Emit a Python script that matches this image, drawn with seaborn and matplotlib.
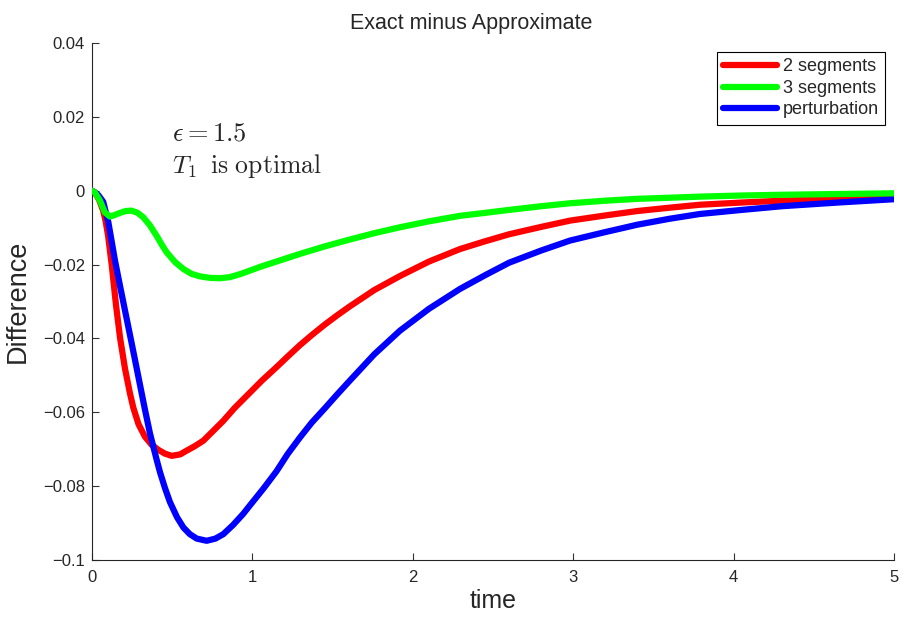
import numpy as np
import pandas as pd
import matplotlib
matplotlib.use("Agg")
import matplotlib.pyplot as plt
import seaborn as sns

# Valores
t_two = [0, 0.02, 0.045, 0.07, 0.085, 0.1, 0.123, 0.15, 0.175, 0.206, 0.237, 0.258,
         0.29, 0.33, 0.372, 0.415, 0.455, 0.497, 0.55, 0.59, 0.64, 0.694, 0.75,
         0.819, 0.89, 0.975, 1.06, 1.15, 1.22, 1.297, 1.37, 1.45, 1.53, 1.608, 1.76,
         1.92, 2.1, 2.294, 2.45, 2.6, 2.8, 2.98, 3.2, 3.4, 3.6, 3.79, 4.05, 4.3,
         4.65, 5.0]
d_two = [0, -0.0006, -0.0025, -0.0054, -0.0082, -0.012, -0.02, -0.031, -0.0398,
         -0.0482, -0.0549, -0.0588, -0.0632, -0.0666, -0.0688, -0.0702, -0.0712,
         -0.0718, -0.0714, -0.0704, -0.0692, -0.0677, -0.0653, -0.0623, -0.0588,
         -0.0551, -0.0514, -0.0478, -0.0449, -0.0418, -0.0391, -0.0363, -0.0337,
         -0.0313, -0.0269, -0.0231, -0.0192, -0.0158, -0.0137, -0.0118, -0.0098,
         -0.0081, -0.0067, -0.0055, -0.0046, -0.0038, -0.0032, -0.0027, -0.0021,
         -0.0015]

t_three = [0, 0.019, 0.05, 0.081, 0.112, 0.14, 0.175, 0.21, 0.247, 0.285, 0.32,
           0.36, 0.403, 0.435, 0.466, 0.52, 0.57, 0.62, 0.673, 0.735, 0.798, 0.86,
           0.93, 1.05, 1.17, 1.297, 1.45, 1.6, 1.76, 1.92, 2.1, 2.294, 2.45, 2.6,
           2.8, 2.98, 3.2, 3.4, 3.6, 3.79, 4.05, 4.3, 4.65, 5.0]
d_three = [0, -0.0005, -0.0027, -0.0059, -0.007, -0.0066, -0.006, -0.0055, -0.0054,
           -0.006, -0.0072, -0.0093, -0.0122, -0.0146, -0.0167, -0.0194, -0.0212,
           -0.0225, -0.0232, -0.0236, -0.0237, -0.0234, -0.0225, -0.0206, -0.0189,
           -0.0171, -0.0151, -0.0133, -0.0115, -0.0099, -0.0083, -0.0068, -0.006,
           -0.0052, -0.0042, -0.0034, -0.0027, -0.0022, -0.0019, -0.0016, -0.0013,
           -0.0011, -0.0009, -0.0007]

t_pert = [0, 0.02, 0.04, 0.07, 0.102, 0.122, 0.143, 0.175, 0.21, 0.247, 0.289,
          0.33, 0.362, 0.403, 0.424, 0.455, 0.486, 0.53, 0.57, 0.61, 0.653, 0.715,
          0.77, 0.819, 0.88, 0.943, 0.985, 1.07, 1.15, 1.22, 1.297, 1.37, 1.45, 1.53,
          1.608, 1.76, 1.92, 2.1, 2.294, 2.45, 2.6, 2.8, 2.98, 3.2, 3.4, 3.6, 3.79,
          4.05, 4.3, 4.65, 5.0]
d_pert = [0, -0.0005, -0.0012, -0.003, -0.0085, -0.0135, -0.0188, -0.0258, -0.0333,
          -0.0412, -0.0503, -0.0592, -0.0658, -0.0728, -0.0762, -0.0805, -0.0843,
          -0.0884, -0.0912, -0.093, -0.0942, -0.0948, -0.0942, -0.093, -0.0905,
          -0.0875, -0.0852, -0.0806, -0.076, -0.0713, -0.0668, -0.0628, -0.059,
          -0.0551, -0.0514, -0.0443, -0.0379, -0.032, -0.0266, -0.0229, -0.0195,
          -0.0162, -0.0135, -0.0112, -0.0092, -0.0076, -0.0063, -0.0052, -0.0042,
          -0.0032, -0.0023]

labels = ["2 segments", "3 segments", "perturbation"]
colors = ["#ff0000", "#00ff00", "#0000ff"]

df = pd.concat([
    pd.DataFrame({"time": t_two, "Difference": d_two, "serie": labels[0]}),
    pd.DataFrame({"time": t_three, "Difference": d_three, "serie": labels[1]}),
    pd.DataFrame({"time": t_pert, "Difference": d_pert, "serie": labels[2]}),
])

sns.set_style("ticks")
plt.rcParams["font.family"] = ["Liberation Sans", "DejaVu Sans"]
plt.rcParams["mathtext.fontset"] = "cm"
plt.rcParams["xtick.direction"] = "in"
plt.rcParams["ytick.direction"] = "in"
plt.rcParams["lines.solid_joinstyle"] = "round"

fig = plt.figure(figsize=(9.06, 6.17), dpi=100)
ax = fig.add_axes([0.1015, 0.0924, 0.8853, 0.8379])

sns.lineplot(data=df, x="time", y="Difference", hue="serie", palette=colors,
             linewidth=4.5, sort=False, estimator=None, ax=ax)

# verde por cima, azul sobre o vermelho
ax.lines[0].set_zorder(2)
ax.lines[2].set_zorder(2.5)
ax.lines[1].set_zorder(3)

ax.set_xlim(0, 5)
ax.set_ylim(-0.1, 0.04)
ax.set_xticks([0, 1, 2, 3, 4, 5])
ax.set_yticks([-0.1, -0.08, -0.06, -0.04, -0.02, 0, 0.02, 0.04])
ax.set_yticklabels(["\u22120.1", "\u22120.08", "\u22120.06", "\u22120.04", "\u22120.02",
                    "0", "0.02", "0.04"])
ax.tick_params(axis="both", labelsize=12, length=5, width=0.8, color="#333333")
ax.tick_params(axis="x", pad=7)
ax.tick_params(axis="y", pad=5)
sns.despine(ax=ax)

ax.set_title("Exact minus Approximate", fontsize=15.5, pad=10, x=0.4726)
ax.set_xlabel("time", fontsize=18, labelpad=3)
ax.set_ylabel("Difference", fontsize=19.5, labelpad=9)

ax.text(0.5, 0.0155, r"$\epsilon = 1.5$", fontsize=19, va="center", ha="left")
ax.text(0.5, 0.0068, r"$T_1\;\;\mathrm{is\ optimal}$", fontsize=18.5,
        va="center", ha="left")

leg = ax.legend(loc="upper right", fontsize=13, frameon=True, fancybox=False,
                edgecolor="black", framealpha=1, handlelength=3.0,
                borderaxespad=0.5, labelspacing=0.25, handletextpad=0.3,
                borderpad=0.35)
leg.get_frame().set_linewidth(0.8)
for line in leg.get_lines():
    line.set_linewidth(4.5)

fig.savefig("out.png", dpi=100)
